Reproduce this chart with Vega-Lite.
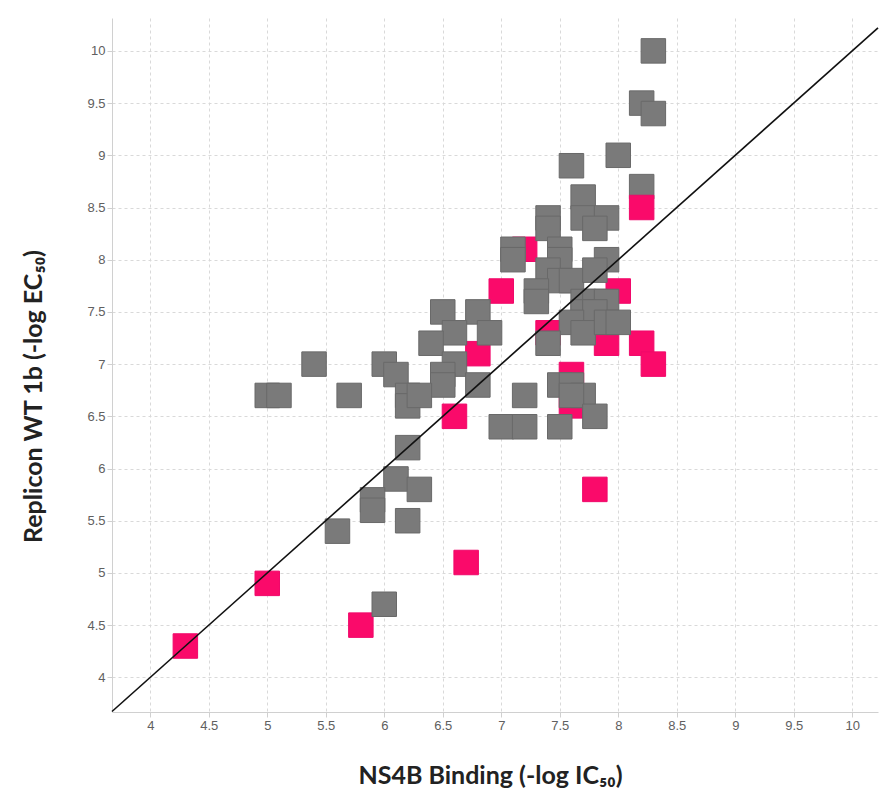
{
  "$schema": "https://vega.github.io/schema/vega-lite/v6.json",
  "width": 766,
  "height": 694,
  "autosize": "none",
  "padding": {"left": 112, "top": 18, "right": 1, "bottom": 80},
  "background": "white",
  "config": {"view": {"stroke": null}},
  "datasets": {
    "pts": [
      {"x": 7.2, "y": 8.1, "g": "pink"},
      {"x": 7.4, "y": 7.3, "g": "pink"},
      {"x": 7.6, "y": 6.9, "g": "pink"},
      {"x": 7.6, "y": 6.6, "g": "pink"},
      {"x": 8.0, "y": 7.7, "g": "pink"},
      {"x": 7.0, "y": 7.7, "g": "pink"},
      {"x": 6.8, "y": 7.1, "g": "pink"},
      {"x": 6.6, "y": 6.5, "g": "pink"},
      {"x": 7.9, "y": 7.2, "g": "pink"},
      {"x": 8.2, "y": 7.2, "g": "pink"},
      {"x": 8.3, "y": 7.0, "g": "pink"},
      {"x": 7.8, "y": 5.8, "g": "pink"},
      {"x": 6.7, "y": 5.1, "g": "pink"},
      {"x": 5.0, "y": 4.9, "g": "pink"},
      {"x": 5.8, "y": 4.5, "g": "pink"},
      {"x": 4.3, "y": 4.3, "g": "pink"},
      {"x": 8.3, "y": 10.0, "g": "gray"},
      {"x": 8.2, "y": 9.5, "g": "gray"},
      {"x": 8.3, "y": 9.4, "g": "gray"},
      {"x": 8.0, "y": 9.0, "g": "gray"},
      {"x": 7.6, "y": 8.9, "g": "gray"},
      {"x": 8.2, "y": 8.7, "g": "gray"},
      {"x": 7.7, "y": 8.6, "g": "gray"},
      {"x": 7.7, "y": 8.4, "g": "gray"},
      {"x": 7.9, "y": 8.4, "g": "gray"},
      {"x": 7.8, "y": 8.3, "g": "gray"},
      {"x": 7.4, "y": 8.4, "g": "gray"},
      {"x": 7.4, "y": 8.3, "g": "gray"},
      {"x": 7.1, "y": 8.1, "g": "gray"},
      {"x": 7.1, "y": 8.0, "g": "gray"},
      {"x": 7.5, "y": 8.1, "g": "gray"},
      {"x": 7.5, "y": 8.0, "g": "gray"},
      {"x": 7.4, "y": 7.9, "g": "gray"},
      {"x": 7.5, "y": 7.8, "g": "gray"},
      {"x": 7.6, "y": 7.8, "g": "gray"},
      {"x": 7.3, "y": 7.7, "g": "gray"},
      {"x": 7.3, "y": 7.6, "g": "gray"},
      {"x": 7.9, "y": 8.0, "g": "gray"},
      {"x": 7.8, "y": 7.9, "g": "gray"},
      {"x": 7.7, "y": 7.6, "g": "gray"},
      {"x": 7.8, "y": 7.6, "g": "gray"},
      {"x": 7.9, "y": 7.6, "g": "gray"},
      {"x": 7.7, "y": 7.5, "g": "gray"},
      {"x": 7.8, "y": 7.5, "g": "gray"},
      {"x": 7.6, "y": 7.4, "g": "gray"},
      {"x": 7.7, "y": 7.3, "g": "gray"},
      {"x": 7.9, "y": 7.4, "g": "gray"},
      {"x": 8.0, "y": 7.4, "g": "gray"},
      {"x": 7.4, "y": 7.2, "g": "gray"},
      {"x": 6.5, "y": 7.5, "g": "gray"},
      {"x": 6.8, "y": 7.5, "g": "gray"},
      {"x": 6.6, "y": 7.3, "g": "gray"},
      {"x": 6.9, "y": 7.3, "g": "gray"},
      {"x": 6.4, "y": 7.2, "g": "gray"},
      {"x": 6.6, "y": 7.0, "g": "gray"},
      {"x": 6.5, "y": 6.9, "g": "gray"},
      {"x": 6.5, "y": 6.8, "g": "gray"},
      {"x": 6.8, "y": 6.8, "g": "gray"},
      {"x": 5.4, "y": 7.0, "g": "gray"},
      {"x": 6.0, "y": 7.0, "g": "gray"},
      {"x": 6.1, "y": 6.9, "g": "gray"},
      {"x": 6.2, "y": 6.7, "g": "gray"},
      {"x": 6.2, "y": 6.6, "g": "gray"},
      {"x": 6.3, "y": 6.7, "g": "gray"},
      {"x": 5.0, "y": 6.7, "g": "gray"},
      {"x": 5.1, "y": 6.7, "g": "gray"},
      {"x": 5.7, "y": 6.7, "g": "gray"},
      {"x": 7.2, "y": 6.7, "g": "gray"},
      {"x": 7.5, "y": 6.8, "g": "gray"},
      {"x": 7.6, "y": 6.8, "g": "gray"},
      {"x": 7.7, "y": 6.7, "g": "gray"},
      {"x": 7.6, "y": 6.7, "g": "gray"},
      {"x": 7.8, "y": 6.5, "g": "gray"},
      {"x": 7.0, "y": 6.4, "g": "gray"},
      {"x": 7.2, "y": 6.4, "g": "gray"},
      {"x": 7.5, "y": 6.4, "g": "gray"},
      {"x": 6.2, "y": 6.2, "g": "gray"},
      {"x": 6.1, "y": 5.9, "g": "gray"},
      {"x": 6.3, "y": 5.8, "g": "gray"},
      {"x": 5.9, "y": 5.7, "g": "gray"},
      {"x": 5.9, "y": 5.6, "g": "gray"},
      {"x": 6.2, "y": 5.5, "g": "gray"},
      {"x": 5.6, "y": 5.4, "g": "gray"},
      {"x": 6.0, "y": 4.7, "g": "gray"},
      {"x": 8.2, "y": 8.5, "g": "pink"}
    ],
    "diag": [
      {"x": 3.673, "y": 3.673},
      {"x": 10.22, "y": 10.22}
    ]
  },
  "layer": [
    {
      "data": {"name": "pts"},
      "mark": {"type": "point", "shape": "square", "filled": true, "size": 600, "opacity": 1, "strokeWidth": 1},
      "encoding": {
        "x": {
          "field": "x", "type": "quantitative",
          "scale": {"domain": [3.673, 10.22], "nice": false, "zero": false},
          "axis": {
            "values": [4, 4.5, 5, 5.5, 6, 6.5, 7, 7.5, 8, 8.5, 9, 9.5, 10],
            "format": ".2~f",
            "title": "NS4B Binding (-log IC₅₀)",
            "titleFont": "Lato", "titleFontSize": 25, "titleFontWeight": "bold", "titleColor": "#222222",
            "titleX": 378, "titleY": 63, "titleBaseline": "middle", "titleAlign": "center",
            "labelFont": "Liberation Sans", "labelFontSize": 13, "labelColor": "#606060", "labelPadding": 2,
            "domainColor": "#d0d0d0", "tickColor": "#d0d0d0", "tickSize": 5,
            "grid": true, "gridColor": "#d9d9d9", "gridDash": [3, 3], "gridWidth": 1
          }
        },
        "y": {
          "field": "y", "type": "quantitative",
          "scale": {"domain": [3.668, 10.315], "nice": false, "zero": false},
          "axis": {
            "values": [4, 4.5, 5, 5.5, 6, 6.5, 7, 7.5, 8, 8.5, 9, 9.5, 10],
            "format": ".2~f",
            "title": "Replicon WT 1b (-log EC₅₀)",
            "titleFont": "Lato", "titleFontSize": 25, "titleFontWeight": "bold", "titleColor": "#222222",
            "titleAngle": -90, "titleX": -79, "titleY": 378, "titleBaseline": "middle", "titleAlign": "center",
            "labelFont": "Liberation Sans", "labelFontSize": 13, "labelColor": "#606060", "labelPadding": 2,
            "domainColor": "#d0d0d0", "tickColor": "#d0d0d0", "tickSize": 5,
            "grid": true, "gridColor": "#d9d9d9", "gridDash": [3, 3], "gridWidth": 1
          }
        },
        "fill": {
          "field": "g", "type": "nominal",
          "scale": {"domain": ["gray", "pink"], "range": ["#7a7a7a", "#fa0a6a"]},
          "legend": null
        },
        "stroke": {
          "field": "g", "type": "nominal",
          "scale": {"domain": ["gray", "pink"], "range": ["#696969", "#f0086a"]},
          "legend": null
        }
      }
    },
    {
      "data": {"name": "diag"},
      "mark": {"type": "line", "color": "#111111", "strokeWidth": 1.6},
      "encoding": {
        "x": {"field": "x", "type": "quantitative"},
        "y": {"field": "y", "type": "quantitative"}
      }
    }
  ]
}
